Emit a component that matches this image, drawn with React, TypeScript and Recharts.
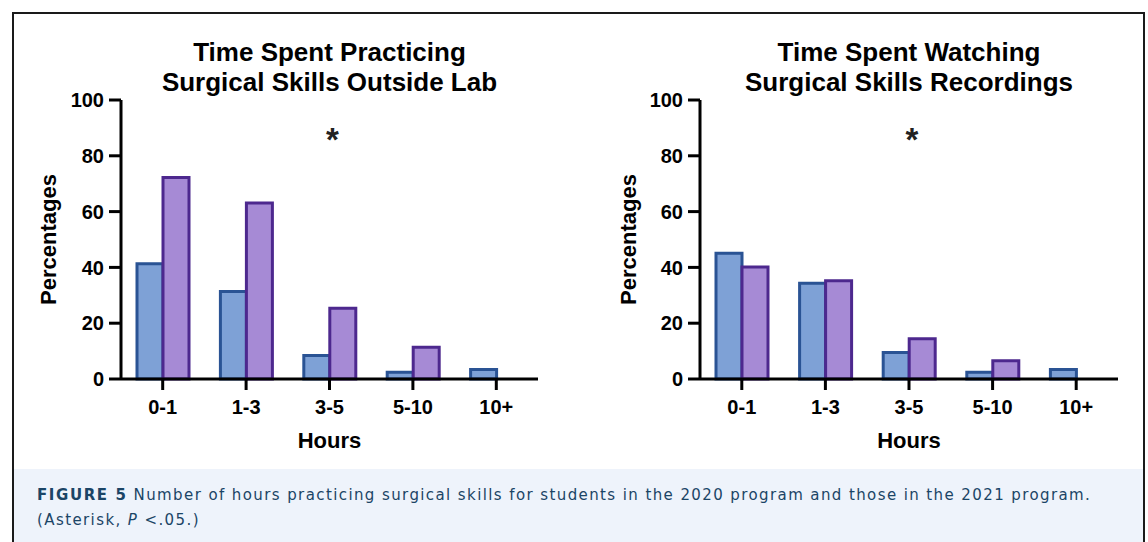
import React from "react";
import {
  BarChart,
  Bar,
  XAxis,
  YAxis,
  ReferenceDot,
} from "recharts";

const hours = ["0-1", "1-3", "3-5", "5-10", "10+"];
const practice2020 = [41.3, 31.4, 8.4, 2.4, 3.4];
const practice2021 = [72.2, 63.1, 25.4, 11.4, 0];
const watching2020 = [45.1, 34.3, 9.5, 2.4, 3.4];
const watching2021 = [40.1, 35.2, 14.4, 6.5, 0];
const yTicks = [0, 20, 40, 60, 80, 100];

const FONT = '"Liberation Sans", Arial, Helvetica, sans-serif';
const CAPTION_FONT = '"DejaVu Sans", Verdana, sans-serif';
const BLUE_FILL = "#7ea1d6";
const BLUE_LINE = "#2a5394";
const PURPLE_FILL = "#a68ad5";
const PURPLE_LINE = "#4d288e";
const CAPTION_COLOR = "#1b4566";

const practiceData = hours.map((h, i) => ({ hours: h, y2020: practice2020[i], y2021: practice2021[i] }));
const watchingData = hours.map((h, i) => ({ hours: h, y2020: watching2020[i], y2021: watching2021[i] }));

interface PanelProps {
  data: { hours: string; y2020: number; y2021: number }[];
  title: string[];
  left: number;
  width: number;
  axisWidth: number;
  rightGap: number;
}

function Panel({ data, title, left, width, axisWidth, rightGap }: PanelProps) {
  const plotCenter = axisWidth + (width - axisWidth - rightGap) / 2;
  return (
    <div style={{ position: "absolute", left, top: 0, width, height: 460 }}>
      <div
        style={{
          position: "absolute",
          left: plotCenter - 250,
          width: 500,
          top: 37,
          textAlign: "center",
          fontSize: 26,
          fontWeight: 700,
          lineHeight: "30px",
          color: "#000",
        }}
      >
        {title.map((t) => (
          <div key={t}>{t}</div>
        ))}
      </div>
      <BarChart
        width={width}
        height={460}
        data={data}
        barGap={0}
        margin={{ top: 100, right: rightGap, left: 0, bottom: 0 }}
        style={{ position: "absolute", left: 0, top: 0 }}
      >
        <XAxis
          dataKey="hours"
          height={81}
          interval={0}
          tickSize={11}
          tickMargin={10}
          axisLine={{ stroke: "#000", strokeWidth: 3 }}
          tickLine={{ stroke: "#000", strokeWidth: 3 }}
          tick={{ fill: "#000", fontSize: 20, fontWeight: 700 }}
          label={({ viewBox }: any) => (
            <text
              x={viewBox.x + viewBox.width / 2}
              y={440}
              textAnchor="middle"
              dominantBaseline="central"
              fontSize={22}
              fontWeight={700}
              fill="#000"
            >
              Hours
            </text>
          )}
        />
        <YAxis
          width={axisWidth}
          domain={[0, 100]}
          ticks={yTicks}
          tickSize={12}
          tickMargin={5}
          axisLine={{ stroke: "#000", strokeWidth: 3 }}
          tickLine={{ stroke: "#000", strokeWidth: 3 }}
          tick={{ fill: "#000", fontSize: 20, fontWeight: 700 }}
          label={({ viewBox }: any) => {
            const cy = viewBox.y + viewBox.height / 2;
            return (
              <text
                x={48}
                y={cy}
                transform={`rotate(-90, 48, ${cy})`}
                textAnchor="middle"
                dominantBaseline="central"
                fontSize={22}
                fontWeight={700}
                fill="#000"
              >
                Percentages
              </text>
            );
          }}
        />
        <ReferenceDot
          x="3-5"
          y={86}
          r={0}
          fill="none"
          stroke="none"
          label={{ value: "*", position: "center", fontSize: 33, fontWeight: 700, fill: "#222", dx: 3 }}
        />
        <Bar
          dataKey="y2020"
          fill={BLUE_FILL}
          stroke={BLUE_LINE}
          strokeWidth={3}
          barSize={26}
          isAnimationActive={false}
        />
        <Bar
          dataKey="y2021"
          fill={PURPLE_FILL}
          stroke={PURPLE_LINE}
          strokeWidth={3}
          barSize={26}
          isAnimationActive={false}
        />
      </BarChart>
    </div>
  );
}

export default function App() {
  return (
    <div
      style={{
        position: "fixed",
        left: 0,
        top: 0,
        width: 1148,
        height: 542,
        background: "#fff",
        fontFamily: FONT,
        overflow: "hidden",
      }}
    >
      <div
        style={{
          position: "absolute",
          left: 12,
          top: 12,
          width: 1129,
          height: 600,
          borderLeft: "2px solid #1a1a1a",
          borderTop: "2px solid #1a1a1a",
          borderRight: "2px solid #1a1a1a",
        }}
      />
      <Panel data={practiceData} title={["Time Spent Practicing", "Surgical Skills Outside Lab"]} left={0} width={570} axisWidth={121} rightGap={32} />
      <Panel data={watchingData} title={["Time Spent Watching", "Surgical Skills Recordings"]} left={580} width={568} axisWidth={120} rightGap={30} />
      <div
        style={{
          position: "absolute",
          left: 14,
          top: 469,
          width: 1129,
          height: 73,
          background: "#eef3fb",
          boxSizing: "border-box",
          padding: "14px 0 0 23px",
          color: CAPTION_COLOR,
          fontFamily: CAPTION_FONT,
          fontSize: 15,
          lineHeight: "25px",
          letterSpacing: "1.4px",
          whiteSpace: "nowrap",
        }}
      >
        <div>
          <span style={{ fontWeight: 700, letterSpacing: "1.6px", marginRight: 6 }}>FIGURE 5</span>
          Number of hours practicing surgical skills for students in the 2020 program and those in the 2021 program.
        </div>
        <div>
          (Asterisk, <i>P</i> &lt;.05.)
        </div>
      </div>
    </div>
  );
}
